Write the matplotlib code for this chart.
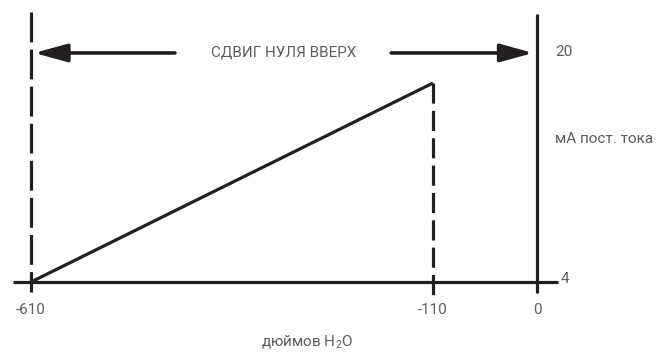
import numpy as np
import matplotlib
matplotlib.use("Agg")
import matplotlib.pyplot as plt

# Data
x_start = -610          # inches H2O, lower range value
x_end = -110            # inches H2O, where the output reaches top
x_zero = 0
y_low = 4               # mA
y_high = 20
y_at_end = 17.9         # output current at -110 (line stops short of 20)
x_ticks = [-610, -110, 0]
x_tick_labels = ["-610", "-110", "0"]
y_ticks = [4, 20]
y_tick_labels = ["4", "20"]
title_text = "СДВИГ НУЛЯ ВВЕРХ"
y_label = "мА пост. тока"
x_label = "дюймов H$_\\mathregular{2}$O"

LINE = "#231f20"
TEXT = "#5c5d5f"
FS = 11

plt.rcParams["font.family"] = ["Roboto", "DejaVu Sans"]
plt.rcParams["mathtext.fontset"] = "custom"
plt.rcParams["mathtext.rm"] = "Roboto"
plt.rcParams["lines.scale_dashes"] = False


# the drawing is not to scale: the -110..0 stretch is wider than the rest
def fwd(x):
    x = np.asarray(x, dtype=float)
    return np.where(x < -110, (x + 110) * 402 / 500, (x + 110) * 104 / 110)


def inv(p):
    p = np.asarray(p, dtype=float)
    return np.where(p < 0, p * 500 / 402 - 110, p * 110 / 104 - 110)


fig = plt.figure(figsize=(6.56, 3.56), dpi=100)
ax = fig.add_axes([0, 0, 1, 1])
ax.set_xscale("function", functions=(fwd, inv))
ax.set_xlim(-648.6, 125.9)
ax.set_ylim(-1.17, 23.70)
ax.axis("off")

lw = 2.3
dash = (21.5, 5.2)

# horizontal axis (4 mA line)
ax.plot([-633, 22], [y_low, y_low], color=LINE, lw=lw, solid_capstyle="butt")
# right solid axis at 0
ax.plot([x_zero, x_zero], [3.25, 22.7], color=LINE, lw=lw, solid_capstyle="butt")
# left dashed line at -610
ax.plot([x_start, x_start], [22.85, 3.3], color=LINE, lw=lw, dashes=dash,
        dash_capstyle="butt")
# dashed line at -110
ax.plot([x_end, x_end], [y_at_end, 2.95], color=LINE, lw=lw, dashes=(14.5, 5.2),
        dash_capstyle="butt")
# output ramp
ax.plot([x_start, x_end], [y_low, y_at_end], color=LINE, lw=lw,
        solid_capstyle="butt")

# arrows
astyle = dict(arrowstyle="-|>,head_length=2.0,head_width=0.55",
              mutation_scale=10, lw=2.6, color=LINE, shrinkA=0, shrinkB=0)
ax.annotate("", xy=(-606, y_high), xytext=(-431, y_high), arrowprops=astyle)
ax.annotate("", xy=(-4, y_high), xytext=(-162, y_high), arrowprops=astyle)

ax.text(-296, y_high, title_text, color=TEXT, fontsize=FS, ha="center",
        va="center")

# tick labels
for xv, lab in zip(x_ticks, x_tick_labels):
    ax.text(xv, 2.05, lab, color=TEXT, fontsize=FS, ha="center", va="center")
ax.text(30, y_ticks[0] + 0.2, y_tick_labels[0], color=TEXT, fontsize=FS,
        ha="center", va="center")
ax.text(19, y_ticks[1] + 0.1, y_tick_labels[1], color=TEXT, fontsize=FS,
        ha="left", va="center")

ax.text(19, 14.0, y_label, color=TEXT, fontsize=FS, ha="left", va="center")
ax.text(-267, -0.2, x_label, color=TEXT, fontsize=FS, ha="center",
        va="center")

fig.savefig("out.png", dpi=100)
